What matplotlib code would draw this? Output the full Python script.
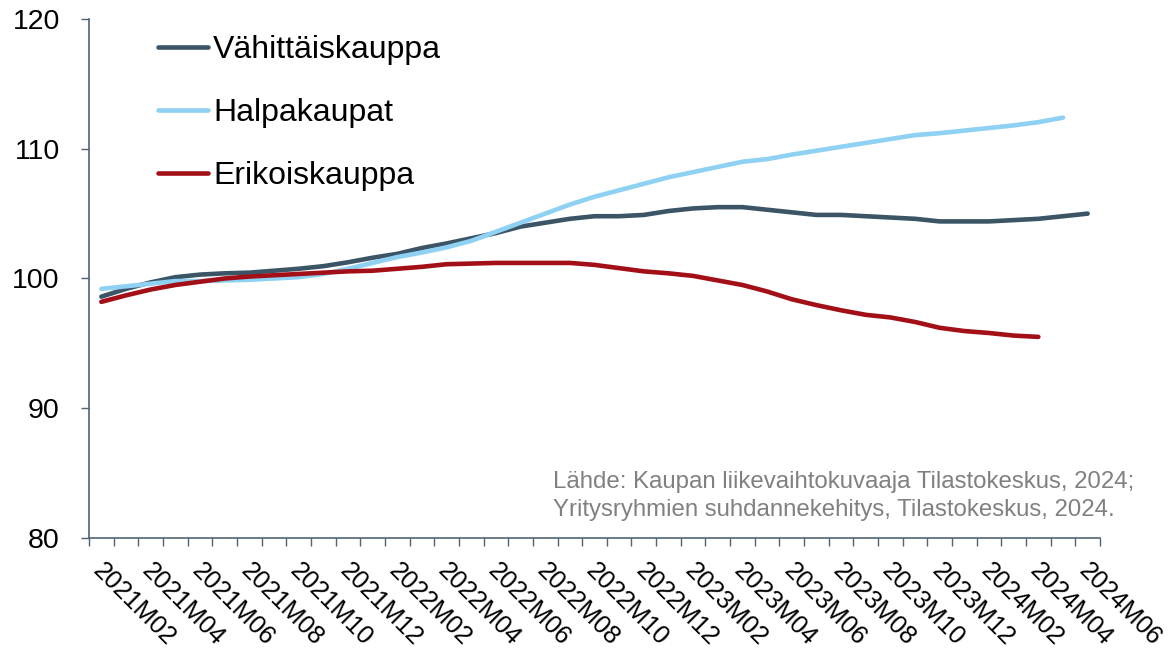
import matplotlib
matplotlib.use("Agg")
import matplotlib.pyplot as plt
import numpy as np
from matplotlib.ticker import FixedLocator

plt.rcParams['font.family'] = ['Liberation Sans', 'DejaVu Sans']

months = []
for y in (2021, 2022, 2023, 2024):
    for m in range(1, 13):
        if (y == 2021 and m < 2) or (y == 2024 and m > 6):
            continue
        months.append(f"{y}M{m:02d}")

vahittais = [98.6, 99.2, 99.7, 100.1, 100.3, 100.4, 100.45, 100.6, 100.75, 100.95,
             101.25, 101.6, 101.9, 102.35, 102.7, 103.1, 103.5, 104.0, 104.3, 104.6,
             104.8, 104.8, 104.9, 105.2, 105.4, 105.5, 105.5, 105.3, 105.1, 104.9,
             104.9, 104.8, 104.7, 104.6, 104.4, 104.4, 104.4, 104.5, 104.6, 104.8, 105.0]
halpa = [99.2, 99.4, 99.6, 99.8, 99.8, 99.85, 99.9, 100.0, 100.1, 100.35,
         100.75, 101.2, 101.65, 102.0, 102.4, 102.9, 103.6, 104.3, 105.0, 105.7,
         106.3, 106.8, 107.3, 107.8, 108.2, 108.6, 109.0, 109.2, 109.55, 109.85,
         110.15, 110.45, 110.75, 111.05, 111.2, 111.4, 111.6, 111.8, 112.05, 112.4]
erikois = [98.2, 98.7, 99.15, 99.5, 99.75, 100.0, 100.15, 100.25, 100.35, 100.45,
           100.55, 100.6, 100.75, 100.9, 101.1, 101.15, 101.2, 101.2, 101.2, 101.2,
           101.05, 100.8, 100.55, 100.4, 100.2, 99.85, 99.5, 99.0, 98.4, 97.95,
           97.55, 97.2, 97.0, 96.65, 96.2, 95.95, 95.8, 95.6, 95.5]

series_names = ["Vähittäiskauppa", "Halpakaupat", "Erikoiskauppa"]
colors = ["#3b5566", "#8ed1f3", "#a30f17"]
source = "Lähde: Kaupan liikevaihtokuvaaja Tilastokeskus, 2024;\nYritysryhmien suhdannekehitys, Tilastokeskus, 2024."

W, H = 1172, 652
fig = plt.figure(figsize=(W / 100, H / 100), dpi=100)
ax = fig.add_axes([89 / W, 1 - 538 / H, (1100 - 89) / W, (538 - 19) / H])

for vals, name, c in zip([vahittais, halpa, erikois], series_names, colors):
    x = np.arange(len(vals))
    ax.plot(x, vals, color=c, lw=3.3, label=name, solid_capstyle='round', solid_joinstyle='round')

spine_c = "#4f6375"
ax.set_xlim(-0.5, len(months) - 0.5)
ax.set_ylim(80, 120)
ax.set_yticks([80, 90, 100, 110, 120])
ax.tick_params(axis='y', length=6, width=1, color=spine_c, labelsize=20.5, pad=15, direction='out')

ax.set_xticks(np.arange(0, len(months), 2))
ax.set_xticklabels(months[::2], rotation=-45, ha='left', va='top', rotation_mode='anchor')
ax.tick_params(axis='x', which='major', length=0, labelsize=18.3, pad=15)
ax.xaxis.set_minor_locator(FixedLocator(np.arange(-0.5, len(months), 1)))
ax.tick_params(axis='x', which='minor', length=6, width=1, color=spine_c, direction='out')
offset = matplotlib.transforms.ScaledTranslation(4 / 100, 0, fig.dpi_scale_trans)
for lbl in ax.get_xticklabels():
    lbl.set_transform(lbl.get_transform() + offset)

for s in ('top', 'right'):
    ax.spines[s].set_visible(False)
for s in ('left', 'bottom'):
    ax.spines[s].set_color(spine_c)
    ax.spines[s].set_linewidth(1.2)

leg = ax.legend(loc='upper left', bbox_to_anchor=(158 / W, 1 - 35 / H), bbox_transform=fig.transFigure,
                frameon=False, fontsize=23, handlelength=1.55, handletextpad=0.18,
                labelspacing=1.03, borderpad=0, borderaxespad=0)

fig.text(553 / W, 1 - 471 / H, source, ha='left', va='top', fontsize=17.3, color='#808080', linespacing=1.36)

fig.savefig("out.png", dpi=100)
